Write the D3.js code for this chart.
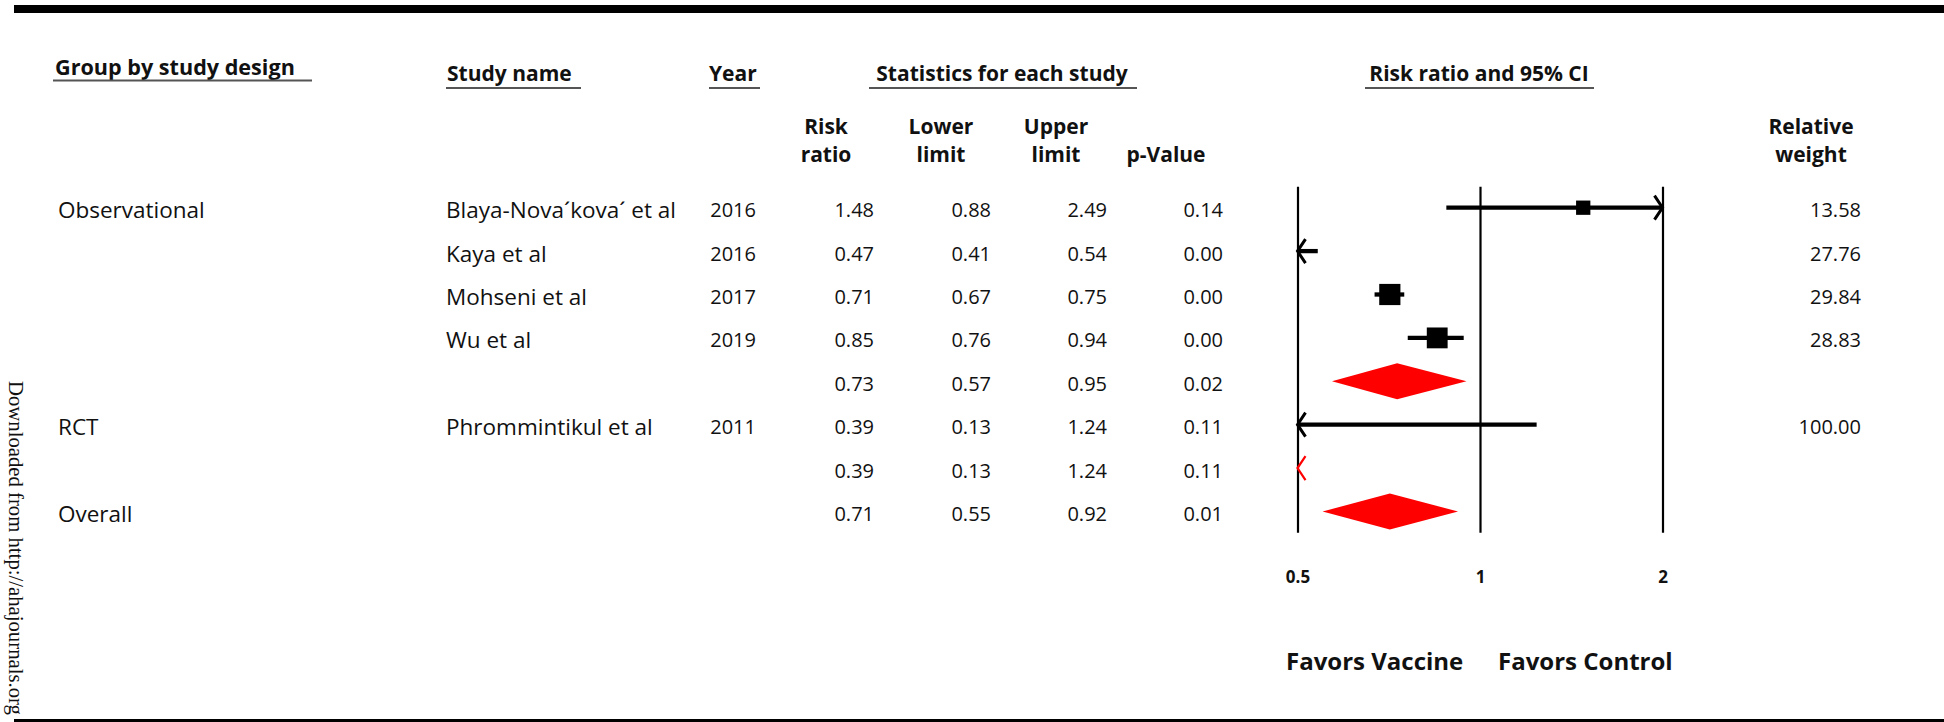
<!DOCTYPE html>
<html>
<head>
<meta charset="utf-8">
<script src="https://cdn.jsdelivr.net/npm/d3@7"></script>
<style>
  html, body { margin: 0; padding: 0; background: #fff; }
  svg { display: block; }
  text { font-family: "Open Sans", "DejaVu Sans", sans-serif; fill: #111; }
</style>
</head>
<body>
<svg id="chart" width="1944" height="722"></svg>
<script>
// ---------------- data ----------------
const groups   = ["Observational", "", "", "", "", "RCT", "", "Overall"];
const studies  = ["Blaya-Nova´kova´ et al", "Kaya et al", "Mohseni et al", "Wu et al", "", "Phrommintikul et al", "", ""];
const years    = ["2016", "2016", "2017", "2019", "", "2011", "", ""];
const riskRatio = [1.48, 0.47, 0.71, 0.85, 0.73, 0.39, 0.39, 0.71];
const lowerLimit = [0.88, 0.41, 0.67, 0.76, 0.57, 0.13, 0.13, 0.55];
const upperLimit = [2.49, 0.54, 0.75, 0.94, 0.95, 1.24, 1.24, 0.92];
const pValues  = ["0.14", "0.00", "0.00", "0.00", "0.02", "0.11", "0.11", "0.01"];
const weights  = [13.58, 27.76, 29.84, 28.83, null, 100.00, null, null];
const isSummary = [false, false, false, false, true, false, true, true];
const tickValues = [0.5, 1, 2];
const tickLabels = ["0.5", "1", "2"];

// ---------------- layout ----------------
const svg = d3.select("#chart");
const n = riskRatio.length;
const x = d3.scaleLog().base(2).domain([0.5, 2]).range([1297.5, 1662.5]);
const y = d3.scaleLinear().domain([0, n - 1]).range([207.7, 511.5]);
const plotTop = 186.7, plotBottom = 532.7;
const [dMin, dMax] = x.domain();
const fmt2 = d3.format(".2f");

// frame lines
svg.append("rect").attr("x", 14).attr("y", 5).attr("width", 1930).attr("height", 8).attr("fill", "#000");
svg.append("rect").attr("x", 14).attr("y", 719).attr("width", 1930).attr("height", 3).attr("fill", "#000");

// side note (fitted so that it stays inside the picture)
const side = svg.append("text")
  .attr("transform", "translate(9,381) rotate(90)")
  .style("font-family", "'Liberation Serif', 'DejaVu Serif', serif")
  .style("font-size", "21.5px")
  .text("Downloaded from http://ahajournals.org");
const sideLen = side.node().getComputedTextLength();
if (sideLen > 334) side.style("font-size", (21.5 * 334 / sideLen).toFixed(2) + "px");

// ---------------- headers ----------------
const hdr = svg.append("g").style("font-weight", "700").style("font-size", "21px");
function header(txt, xx, yy, anchor) {
  return hdr.append("text").attr("x", xx).attr("y", yy).attr("text-anchor", anchor || "start").text(txt);
}
function uline(x1, x2, yy) {
  svg.append("line").attr("x1", x1).attr("x2", x2).attr("y1", yy).attr("y2", yy)
    .attr("stroke", "#555").attr("stroke-width", 2);
}
header("Group by study design", 55, 74.5).style("font-size", "21.6px"); uline(53, 312, 80.5);
header("Study name", 447, 81); uline(446, 581, 88);
header("Year", 709, 81); uline(709, 760, 88);
header("Statistics for each study", 1002, 80.7, "middle"); uline(869, 1137, 88);
header("Risk ratio and 95% CI", 1479, 80.7, "middle"); uline(1365, 1594, 88);
header("Risk", 826, 134, "middle"); header("ratio", 826, 161.7, "middle");
header("Lower", 941, 134, "middle"); header("limit", 941, 161.7, "middle");
header("Upper", 1056, 134, "middle"); header("limit", 1056, 161.7, "middle");
header("p-Value", 1166, 161.7, "middle");
header("Relative", 1811, 134, "middle"); header("weight", 1811, 161.7, "middle");

// ---------------- table text ----------------
const rows = d3.range(n);
const tbl = svg.append("g");
function column(values, xx, anchor, size) {
  tbl.append("g").style("font-size", size || "20px")
    .selectAll("text").data(rows).join("text")
    .attr("x", xx).attr("y", i => y(i) + 2)
    .attr("dominant-baseline", "central")
    .attr("text-anchor", anchor)
    .text(i => values[i]);
}
column(groups, 58, "start", "22.5px");
column(studies, 446, "start", "22.5px");
column(years, 756, "end");
column(riskRatio.map(fmt2), 874, "end");
column(lowerLimit.map(fmt2), 991, "end");
column(upperLimit.map(fmt2), 1107, "end");
column(pValues, 1223, "end");
column(weights.map(w => w == null ? "" : fmt2(w)), 1861, "end");

// ---------------- axis / reference lines ----------------
const axis = d3.axisBottom(x).tickValues(tickValues)
  .tickFormat((d, i) => tickLabels[i])
  .tickSize(-(plotBottom - plotTop)).tickPadding(0);
const ax = svg.append("g").attr("transform", `translate(0,${plotBottom})`).call(axis);
ax.select(".domain").remove();
ax.selectAll(".tick line").attr("stroke", "#000").attr("stroke-width", 2.2);
ax.selectAll(".tick text")
  .attr("y", 50).attr("dy", 0)
  .style("font-family", "'Open Sans', sans-serif")
  .style("font-size", "17px").style("font-weight", "700").attr("fill", "#111");

// ---------------- marks ----------------
const marks = svg.append("g");
const inDom = v => v >= dMin && v <= dMax;
const clampV = v => Math.max(dMin, Math.min(dMax, v));

function chevron(sideName, yy, color, sw) {
  const xx = sideName === "left" ? x(dMin) : x(dMax);
  const dx = sideName === "left" ? 8 : -8;
  marks.append("path")
    .attr("d", `M${xx + dx},${yy - 12}L${xx},${yy}L${xx + dx},${yy + 12}`)
    .attr("fill", "none").attr("stroke", color).attr("stroke-width", sw)
    .attr("stroke-linejoin", "miter");
}

rows.forEach(i => {
  const yy = y(i);
  if (!isSummary[i]) {
    const lo = clampV(lowerLimit[i]), hi = clampV(upperLimit[i]);
    if (hi > lo) {
      marks.append("line").attr("x1", x(lo)).attr("x2", x(hi))
        .attr("y1", yy).attr("y2", yy).attr("stroke", "#000").attr("stroke-width", 4.3);
    }
    if (lowerLimit[i] < dMin) chevron("left", yy, "#000", 3);
    if (upperLimit[i] > dMax) chevron("right", yy, "#000", 3);
    if (inDom(riskRatio[i]) && weights[i] != null) {
      const s = 3.88 * Math.sqrt(weights[i]);
      marks.append("rect").attr("x", x(riskRatio[i]) - s / 2).attr("y", yy - s / 2)
        .attr("width", s).attr("height", s).attr("fill", "#000");
    }
  } else {
    if (inDom(riskRatio[i])) {
      const h = 18;
      const pts = [[x(clampV(lowerLimit[i])), yy], [x(riskRatio[i]), yy - h],
                   [x(clampV(upperLimit[i])), yy], [x(riskRatio[i]), yy + h]];
      marks.append("path").attr("d", d3.line()(pts) + "Z").attr("fill", "#ff0000");
    } else {
      if (lowerLimit[i] < dMin) chevron("left", yy, "#ff0000", 2.2);
    }
  }
});

// ---------------- footer labels ----------------
const foot = svg.append("g").style("font-size", "24px").style("font-weight", "700");
foot.append("text").attr("x", 1286).attr("y", 670).text("Favors Vaccine");
foot.append("text").attr("x", 1498).attr("y", 670).text("Favors Control");
</script>
</body>
</html>
